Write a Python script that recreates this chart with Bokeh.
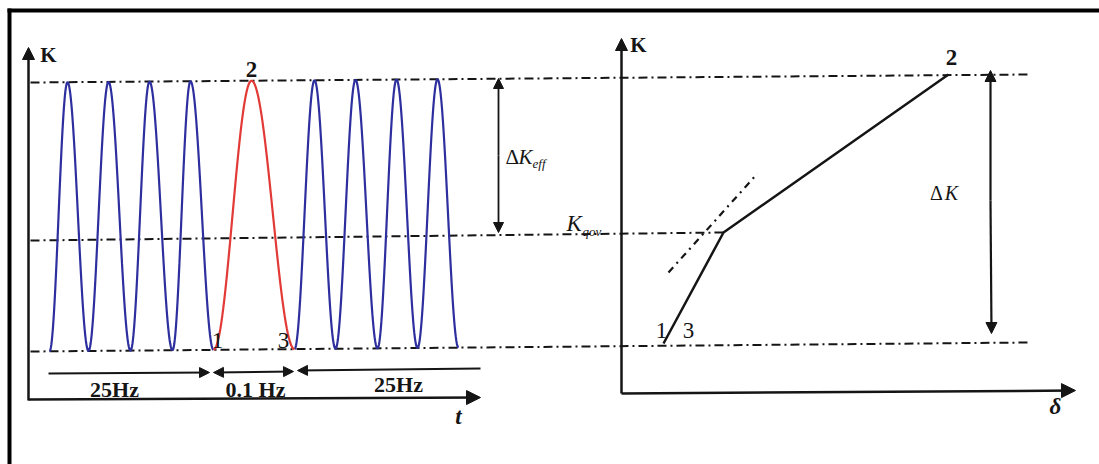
import numpy as np
from bokeh.plotting import figure
from bokeh.models import Range1d, Arrow, NormalHead
from bokeh.core.properties import value
from bokeh.embed import file_html
from bokeh.resources import INLINE

W, H = 1099, 464

# ---- data (scan pixel coordinates) ----
# K levels: dash-dot reference lines (start x, end x, y at start, y at end)
level_names = ["K_max", "K_op", "K_min"]
level_x0 = [30, 30, 30]
level_x1 = [1028, 723, 1030]
level_y0 = [82, 240, 351]
level_y1 = [74, 232, 342]

# left panel: extrema of the loading wave along t (trough, peak, trough, ...)
blue1_extrema = [49, 67, 88, 108, 130, 149, 172, 190, 213]
red_extrema = [213, 251, 294]
blue2_extrema = [294, 314, 335, 355, 377, 396, 417, 437, 458]

# right panel: K - delta curve points 1/3 -> knee -> 2
curve_x = [663, 723, 948]
curve_y = [343, 232, 74]
tangent_x = [668, 757]
tangent_y = [272, 173]

FONT = value("Liberation Serif")
BLUE = "#2e2f9e"
RED = "#e23a36"
INK = "#151515"


def ybot(x):
    return np.interp(x, [level_x0[2], level_x1[2]], [level_y0[2], level_y1[2]])


def ytop(x):
    return np.interp(x, [level_x0[0], level_x1[0]], [level_y0[0], level_y1[0]])


def wave(extrema):
    X, Y = [], []
    for i in range(len(extrema) - 1):
        a, b = extrema[i], extrema[i + 1]
        t = np.linspace(0, 1, 40)
        x = a + (b - a) * t
        if i % 2 == 0:
            s = 0.5 - 0.5 * np.cos(np.pi * t)
        else:
            s = 0.5 + 0.5 * np.cos(np.pi * t)
        y = ybot(x) + (ytop(x) - ybot(x)) * s
        X.extend(x.tolist())
        Y.extend(y.tolist())
    return X, Y


p = figure(width=W, height=H, x_range=Range1d(0, W), y_range=Range1d(H, 0),
           output_backend="svg", toolbar_location=None, min_border=0,
           x_axis_location=None, y_axis_location=None)
p.grid.visible = False
p.outline_line_color = None
p.background_fill_color = "white"
p.border_fill_color = "white"

# frame of the scanned picture
p.segment(x0=[7, 9], y0=[10, 8], x1=[W, 9], y1=[10, H], line_color="black", line_width=4)

# dash-dot K level lines
p.segment(x0=level_x0, y0=level_y0, x1=level_x1, y1=level_y1,
          line_color=INK, line_width=2, line_dash="9 4 2 4")

# loading wave
bx, by = wave(blue1_extrema)
p.line(bx, by, line_color=BLUE, line_width=2.2)
bx2, by2 = wave(blue2_extrema)
p.line(bx2, by2, line_color=BLUE, line_width=2.2)
rx, ry = wave(red_extrema)
p.line(rx, ry, line_color=RED, line_width=2.2)


def arrow(x0, y0, x1, y1, size=11, both=False, lw=2.5):
    kw = dict(end=NormalHead(size=size, fill_color=INK, line_color=INK, line_width=1),
              x_start=x0, y_start=y0, x_end=x1, y_end=y1,
              line_color=INK, line_width=lw)
    if both:
        kw["start"] = NormalHead(size=size, fill_color=INK, line_color=INK, line_width=1)
    p.add_layout(Arrow(**kw))


# axes of left panel
arrow(28, 400, 28, 47, size=12)
arrow(28, 399, 480, 397, size=14)
# axes of right panel
arrow(621, 393, 621, 38, size=12)
arrow(621, 393, 1075, 390, size=14)

# frequency segments
arrow(48, 373, 209, 372, size=10, lw=2)
arrow(213, 372, 293, 371, size=10, both=True, lw=2)
arrow(480, 368, 297, 370, size=10, lw=2)

# delta K arrows
arrow(498, 155, 498, 78, size=10, lw=1.8)
arrow(498, 155, 498, 232, size=10, lw=1.8)
arrow(990, 200, 990, 70, size=11, lw=2.2)
arrow(990, 200, 991, 333, size=11, lw=2.2)

# K - delta curve
p.line(curve_x, curve_y, line_color=INK, line_width=2.5)
p.line(tangent_x, tangent_y, line_color=INK, line_width=2.2, line_dash="7 5 2 5")

common = dict(text_font=FONT, text_baseline="middle", text_color=INK)

# labels
p.text(x=[48, 638], y=[54, 44], text=["K", "K"], text_font_size="21px",
       text_font_style="bold", text_align="center", **common)
p.text(x=[251, 951], y=[69, 57], text=["2", "2"], text_font_size="23px",
       text_font_style="bold", text_align="center", **common)
p.text(x=[217, 283, 661, 688], y=[340, 340, 330, 330], text=["1", "3", "1", "3"],
       text_font_size="23px", text_align="center", **common)
p.text(x=[114, 255, 398], y=[389, 389, 384], text=["25Hz", "0.1 Hz", "25Hz"],
       text_font_size="22px", text_font_style="bold", text_align="center", **common)
p.text(x=[458, 1055], y=[416, 406], text=["t", "δ"], text_font_size="23px",
       text_font_style="bold italic", text_align="center", **common)

# delta K eff
p.text(x=[505], y=[156], text=["Δ"], text_font_size="21px", text_align="left", **common)
p.text(x=[518], y=[156], text=["K"], text_font_size="21px", text_font_style="italic",
       text_align="left", **common)
p.text(x=[532], y=[163], text=["eff"], text_font_size="13px", text_font_style="italic",
       text_align="left", **common)
# K op level label
p.text(x=[566], y=[223], text=["K"], text_font_size="23px", text_font_style="italic",
       text_align="left", **common)
p.text(x=[582], y=[231], text=["qov"], text_font_size="13px", text_font_style="italic",
       text_align="left", **common)
# delta K
p.text(x=[936], y=[192], text=["Δ"], text_font_size="20px", text_align="center", **common)
p.text(x=[951], y=[192], text=["K"], text_font_size="20px", text_font_style="italic",
       text_align="center", **common)

open("out.html", "w").write(file_html(p, INLINE))
